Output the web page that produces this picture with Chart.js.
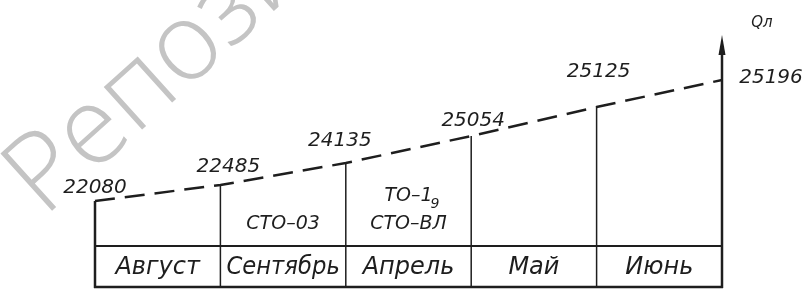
<!DOCTYPE html>
<html>
<head>
<meta charset="utf-8">
<script src="https://cdn.jsdelivr.net/npm/chart.js@4"></script>
<style>
  html, body { margin: 0; padding: 0; background: #fff; }
  #wrap { width: 807px; height: 294px; }
</style>
</head>
<body>
<div id="wrap"><canvas id="myChart" width="807" height="294"></canvas></div>
<script>
// values written over the dashed line (Qл)
const qValues = [22080, 22485, 24135, 25054, 25125, 25196];
// drawn level of the line at each month boundary (schematic, above the table)
const lineLevels = [45, 61, 83, 110, 139, 166];
const months = ['Август', 'Сентябрь', 'Апрель', 'Май', 'Июнь'];
// work notes per month; a trailing "_x" is drawn as a subscript
const workNotes = [[], ['СТО–03'], ['ТО–1_9', 'СТО–ВЛ'], [], []];
const axisName = 'Qл';

const tableDepth = 41;   // height of the month row
const axisTop = 211;

const ink = '#1e1e1e';
const numFont = 'italic 300 20px "DejaVu Sans"';
const monthFont = 'italic 300 24px "DejaVu Sans"';
const noteFont = 'italic 300 19px "DejaVu Sans"';
const subFont = 'italic 300 14px "DejaVu Sans"';

// label nudges relative to each point (px)
const labelShift = [[0, -13], [8, -18], [-6, -22], [2, -15], [2, -35], [49, -2]];

const drawingPlugin = {
  id: 'drawing',
  beforeDraw(c) {
    const ctx = c.ctx;
    ctx.save();
    ctx.fillStyle = '#fff';
    ctx.fillRect(0, 0, c.width, c.height);
    // watermark
    ctx.translate(44, 218);
    ctx.rotate(-42 * Math.PI / 180);
    ctx.font = '300 108px "Open Sans", "Lato", "Liberation Sans"';
    ctx.fillStyle = '#c4c4c4';
    ctx.textBaseline = 'alphabetic';
    ctx.fillText('Репозиторий', 0, 0);
    ctx.restore();
  },
  beforeDatasetsDraw(c) {
    const ctx = c.ctx;
    const xs = c.scales.x, ys = c.scales.y;
    const yTable = ys.getPixelForValue(0);
    const yBottom = ys.getPixelForValue(-tableDepth);
    ctx.save();
    ctx.strokeStyle = ink;
    ctx.lineCap = 'butt';
    for (let i = 0; i < qValues.length; i++) {
      const x = xs.getPixelForValue(i);
      const last = i === qValues.length - 1;
      const top = last ? ys.getPixelForValue(axisTop) + 14 : ys.getPixelForValue(lineLevels[i]);
      ctx.lineWidth = (i === 0 || last) ? 2.5 : 1.5;
      ctx.beginPath();
      ctx.moveTo(x, top);
      ctx.lineTo(x, yBottom + 1);
      ctx.stroke();
    }
    const x0 = xs.getPixelForValue(0), x1 = xs.getPixelForValue(qValues.length - 1);
    ctx.lineWidth = 2;
    ctx.beginPath();
    ctx.moveTo(x0 - 1, yTable); ctx.lineTo(x1 + 1, yTable);
    ctx.stroke();
    ctx.lineWidth = 2.5;
    ctx.beginPath();
    ctx.moveTo(x0 - 1, yBottom); ctx.lineTo(x1 + 1, yBottom);
    ctx.stroke();
    // arrow head
    const yTip = ys.getPixelForValue(axisTop);
    ctx.fillStyle = ink;
    ctx.beginPath();
    ctx.moveTo(x1, yTip);
    ctx.lineTo(x1 - 3.5, yTip + 20);
    ctx.lineTo(x1 + 3.5, yTip + 20);
    ctx.closePath();
    ctx.fill();
    ctx.restore();
  },
  afterDatasetsDraw(c) {
    const ctx = c.ctx;
    const xs = c.scales.x, ys = c.scales.y;
    const yTable = ys.getPixelForValue(0);
    const yBottom = ys.getPixelForValue(-tableDepth);
    ctx.save();
    ctx.fillStyle = ink;
    ctx.textAlign = 'center';
    ctx.textBaseline = 'middle';
    // values over the line
    ctx.font = numFont;
    qValues.forEach((v, i) => {
      const x = xs.getPixelForValue(i) + labelShift[i][0];
      const y = ys.getPixelForValue(lineLevels[i]) + labelShift[i][1];
      ctx.fillText(String(v), x, y);
    });
    // months row
    ctx.font = monthFont;
    months.forEach((m, i) => {
      const a = xs.getPixelForValue(i), b = xs.getPixelForValue(i + 1);
      ctx.fillText(m, (a + b) / 2, (yTable + yBottom) / 2 + 1, b - a - 12);
    });
    // work notes above the table
    workNotes.forEach((lines, i) => {
      const a = xs.getPixelForValue(i), b = xs.getPixelForValue(i + 1);
      lines.forEach((t, k) => {
        const y = yTable - 22 - (lines.length - 1 - k) * 28;
        const parts = t.split('_');
        ctx.font = noteFont;
        if (parts.length === 1) {
          ctx.fillText(t, (a + b) / 2, y);
          return;
        }
        const w = ctx.measureText(parts[0]).width;
        ctx.textAlign = 'left';
        const left = (a + b) / 2 - w / 2;
        ctx.fillText(parts[0], left, y);
        ctx.font = subFont;
        ctx.fillText(parts[1], left + w - 2, y + 8);
        ctx.textAlign = 'center';
      });
    });
    // axis name
    ctx.font = 'italic 300 15px "DejaVu Sans"';
    const x1 = xs.getPixelForValue(qValues.length - 1);
    ctx.fillText(axisName, x1 + 40, ys.getPixelForValue(axisTop) - 12);
    ctx.restore();
  }
};

const ctx = document.getElementById('myChart').getContext('2d');
const chart = new Chart(ctx, {
  type: 'line',
  data: {
    datasets: [{
      data: lineLevels.map((v, i) => ({ x: i, y: v })),
      borderColor: ink,
      borderWidth: 2.5,
      borderDash: [20, 10],
      pointRadius: 0,
      tension: 0,
      fill: false,
      clip: false
    }]
  },
  options: {
    responsive: false,
    animation: false,
    events: [],
    layout: { padding: { left: 95, right: 85, top: 35, bottom: 7 } },
    plugins: { legend: { display: false }, tooltip: { enabled: false } },
    scales: {
      x: { type: 'linear', min: 0, max: qValues.length - 1, display: false },
      y: { min: -tableDepth, max: axisTop, display: false }
    }
  },
  plugins: [drawingPlugin]
});
</script>
</body>
</html>
